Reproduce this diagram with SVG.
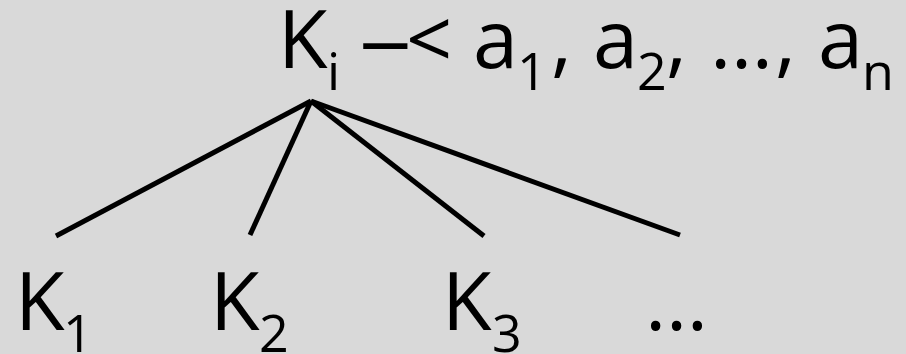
<svg xmlns="http://www.w3.org/2000/svg" width="906" height="354" viewBox="0 0 906 354">
<style>
.t{font-family:"Open Sans","Liberation Sans",sans-serif;fill:#000;font-size:81px}
.sub{font-size:52px}
.edge{stroke:#000;stroke-width:5;fill:none;stroke-linecap:butt}
</style>
<rect width="906" height="354" fill="#d9d9d9"/>
<g id="root">
<text class="t" y="68"><tspan x="278">K</tspan><tspan class="sub" x="327" y="90">i</tspan></text>
<text class="t" transform="translate(359,68) scale(1.3,1)">–</text>
<text class="t" y="68"><tspan x="406">&lt;</tspan><tspan x="473">a</tspan><tspan class="sub" x="517" y="90">1</tspan><tspan x="551" y="68">,</tspan><tspan x="593">a</tspan><tspan class="sub" x="637" y="90">2</tspan><tspan x="666" y="68">,</tspan><tspan x="710">…</tspan><tspan x="775">,</tspan><tspan x="818">a</tspan><tspan class="sub" x="862" y="90">n</tspan></text>
</g>
<g id="k1"><text class="t" y="330"><tspan x="15">K</tspan><tspan class="sub" x="63" y="352">1</tspan></text></g>
<g id="k2"><text class="t" y="330"><tspan x="210">K</tspan><tspan class="sub" x="259" y="352">2</tspan></text></g>
<g id="k3"><text class="t" y="330"><tspan x="442">K</tspan><tspan class="sub" x="492" y="352">3</tspan></text></g>
<g id="more"><text class="t" x="645" y="330">…</text></g>
<g id="connectors">
<line class="edge" x1="311" y1="101" x2="56" y2="236"/>
<line class="edge" x1="311" y1="101" x2="250" y2="235"/>
<line class="edge" x1="311" y1="101" x2="484" y2="236"/>
<line class="edge" x1="311" y1="101" x2="680" y2="235"/>
</g>
</svg>
